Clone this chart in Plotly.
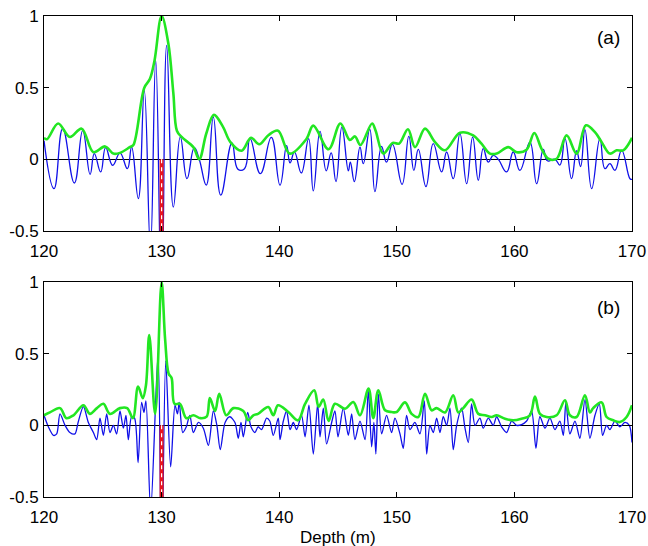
import plotly.graph_objects as go

# ---------------- data ----------------
x_range = [120, 170]
y_range = [-0.5, 1]
x_tickvals = [120, 130, 140, 150, 160, 170]
x_ticktext = ["120", "130", "140", "150", "160", "170"]
y_tickvals = [-0.5, 0, 0.5, 1]
y_ticktext = ["-0.5", "0", "0.5", "1"]
true_depth = 130.0
marker_bottom = -0.5

# panel (a) – blue trace
a_blue_depth = [120.0, 120.85, 121.59, 122.58, 123.29, 123.92, 124.28, 124.82, 125.24, 125.84,
                126.46, 127.09, 127.45, 128.02, 128.53, 129.05, 129.5, 130.0, 130.43, 131.0,
                131.59, 132.16, 132.78, 133.2, 133.8, 134.4, 135.03, 135.98, 136.5, 137.05,
                137.52, 138.4, 139.33, 140.07, 140.63, 140.92, 141.3, 141.88, 142.5, 142.9,
                143.47, 144.0, 144.42, 144.83, 145.33, 145.88, 146.05, 146.39, 146.87, 147.15,
                147.7, 148.14, 148.7, 149.12, 149.63, 150.45, 151.02, 151.45, 151.83, 152.48,
                153.1, 153.81, 154.24, 154.8, 155.37, 155.94, 156.45, 156.93, 157.35, 157.78,
                158.2, 158.63, 159.34, 159.9, 160.47, 161.32, 161.89, 162.46, 162.8, 163.45,
                163.87, 164.3, 164.86, 165.29, 165.63, 166.0, 166.57, 167.27, 167.7, 168.12,
                168.55, 169.12, 169.83, 170.0]
a_blue_value = [0.13, -0.205, 0.214, -0.165, 0.20, -0.105, 0.04, -0.088, 0.081, -0.042,
                0.044, -0.065, 0.086, -0.274, 0.48, -0.62, 0.69, -1.0, 0.795, -0.333,
                0.156, -0.135, 0.081, 0.0, -0.18, 0.295, -0.25, 0.114, -0.07, -0.065,
                0.144, -0.10, 0.153, -0.18, 0.095, -0.025, 0.05, -0.095, 0.145, -0.22,
                0.195, -0.08, 0.045, -0.155, 0.225, -0.08, -0.02, -0.155, 0.085, -0.03,
                0.21, -0.225, 0.09, -0.02, 0.105, -0.175, 0.16, -0.077, 0.07, -0.19,
                0.11, -0.088, 0.051, -0.135, 0.179, -0.17, 0.155, -0.146, 0.075, -0.019,
                0.028, 0.0, -0.088, 0.051, -0.077, 0.12, -0.17, 0.07, -0.01, 0.0,
                -0.04, 0.144, -0.135, 0.06, -0.05, 0.207, -0.205, 0.144, -0.065, -0.03,
                -0.077, 0.063, -0.135, -0.14]

# panel (a) – green envelope
a_green_depth = [120.0, 120.25, 121.2, 122.2, 123.2, 124.2, 125.2, 125.9, 126.46, 127.3,
                 127.6, 128.53, 129.0, 129.4, 130.0, 130.57, 131.0, 131.3, 131.7, 132.7,
                 133.2, 133.8, 134.45, 135.2, 135.85, 136.8, 137.6, 138.3, 139.1, 139.9,
                 140.9, 142.3, 142.9, 144.2, 145.2, 146.0, 146.45, 146.9, 147.9, 148.2,
                 148.85, 149.65, 150.2, 150.95, 151.55, 152.4, 153.25, 154.1, 155.37, 156.5,
                 157.2, 157.92, 158.5, 159.48, 160.2, 161.04, 161.69, 162.3, 162.88, 163.59,
                 164.44, 165.29, 166.08, 166.85, 167.42, 168.12, 168.69, 169.26, 170.0]
a_green_value = [0.15, 0.14, 0.25, 0.156, 0.214, 0.05, 0.09, 0.04, 0.045, 0.085,
                 0.1, 0.5, 0.56, 0.69, 1.0, 0.81, 0.46, 0.2, 0.156, 0.085,
                 0.0, 0.18, 0.31, 0.23, 0.12, 0.06, 0.15, 0.105, 0.17, 0.2,
                 0.04, 0.14, 0.235, 0.07, 0.25, 0.135, 0.16, 0.1, 0.25, 0.2,
                 0.04, 0.115, 0.11, 0.21, 0.085, 0.214, 0.12, 0.063, 0.186, 0.167,
                 0.109, 0.04, 0.04, 0.085, 0.05, 0.067, 0.184, 0.075, 0.004, 0.004,
                 0.167, 0.04, 0.237, 0.19, 0.12, 0.04, 0.063, 0.063, 0.15]

# panel (b) – blue trace
b_blue_depth = [120.0, 120.37, 120.8, 121.08, 121.36, 121.79, 122.2, 122.63, 122.9, 123.35,
                123.77, 124.2, 124.48, 124.76, 125.05, 125.33, 125.61, 125.9, 126.18, 126.46,
                126.75, 126.97, 127.17, 127.45, 127.7, 128.0, 128.3, 128.5, 128.67, 129.07,
                129.7, 130.0, 130.35, 130.77, 131.14, 131.35, 131.5, 131.8, 132.1, 132.4,
                132.7, 133.13, 133.55, 133.98, 134.4, 134.7, 134.99, 135.4, 135.8, 136.24,
                136.52, 136.75, 136.95, 137.32, 137.6, 137.94, 138.2, 138.5, 138.93, 139.2,
                139.5, 139.92, 140.07, 140.35, 140.63, 140.92, 141.2, 141.48, 141.9, 142.2,
                142.53, 142.9, 143.27, 143.47, 143.75, 144.03, 144.46, 144.74, 145.0, 145.45,
                145.88, 146.16, 146.44, 146.87, 147.3, 147.58, 147.86, 148.05, 148.22, 148.43,
                148.71, 149.13, 149.56, 149.84, 150.27, 150.55, 150.83, 151.12, 151.54, 151.97,
                152.34, 152.54, 152.82, 153.1, 153.39, 153.67, 153.95, 154.24, 154.52, 154.8,
                155.09, 155.51, 155.8, 156.08, 156.36, 156.65, 157.07, 157.35, 157.78, 158.2,
                158.49, 158.91, 159.34, 159.76, 160.19, 160.61, 161.04, 161.46, 161.83, 162.17,
                162.6, 163.02, 163.45, 163.87, 164.16, 164.38, 164.72, 165.15, 165.57, 166.0,
                166.42, 166.85, 167.22, 167.5, 167.84, 168.12, 168.55, 168.97, 169.4, 169.77,
                170.0]
b_blue_value = [0.07, -0.01, -0.07, -0.06, 0.08, 0.0, -0.05, -0.06, 0.02, 0.13,
                0.02, -0.05, -0.1, 0.05, -0.07, 0.08, -0.05, 0.0, -0.06, 0.1,
                -0.02, 0.07, -0.1, 0.06, 0.05, -0.26, 0.16, 0.09, 0.17, -0.6,
                0.5, -1.0, 0.45, -0.29, 0.14, 0.08, 0.16, -0.05, -0.01, 0.07,
                -0.05, 0.02, -0.02, -0.14, 0.1, 0.0, -0.17, 0.02, 0.06, 0.02,
                -0.09, 0.02, -0.08, 0.09, -0.01, -0.05, -0.01, -0.03, 0.05, 0.03,
                -0.07, 0.05, -0.1, 0.03, 0.1, -0.03, 0.02, -0.03, 0.07, -0.08,
                0.14, -0.2, 0.15, -0.08, 0.12, -0.13, 0.02, 0.1, -0.08, 0.12,
                -0.07, 0.08, -0.1, 0.03, -0.1, 0.245, -0.15, 0.02, -0.2, 0.22,
                -0.06, 0.07, -0.05, 0.05, -0.06, -0.16, 0.07, -0.03, 0.02, -0.06,
                0.17, -0.2, 0.0, -0.05, 0.05, -0.05, 0.06, 0.0, 0.12, -0.17,
                0.0, 0.12, -0.02, -0.12, 0.15, 0.0, 0.05, -0.02, 0.05, 0.0,
                0.06, -0.01, -0.05, 0.03, 0.0, 0.005, 0.03, 0.1, -0.16, 0.06,
                -0.02, 0.05, -0.03, 0.03, -0.07, 0.16, -0.06, 0.03, -0.09, 0.18,
                -0.09, 0.07, 0.15, -0.07, 0.0, -0.03, 0.03, -0.01, 0.02, 0.0,
                -0.12]

# panel (b) – green envelope
b_green_depth = [120.0, 120.5, 121.36, 121.9, 122.5, 123.35, 123.9, 124.5, 125.05, 125.6,
                 126.46, 127.07, 127.56, 128.0, 128.4, 128.67, 128.95, 129.45, 130.0, 130.3,
                 130.6, 130.85, 131.1, 131.56, 132.1, 132.7, 133.3, 133.83, 134.1, 134.55,
                 134.9, 135.5, 136.1, 136.95, 137.37, 137.8, 138.2, 139.07, 139.5, 139.9,
                 140.77, 141.6, 142.2, 142.98, 143.35, 143.75, 144.2, 144.74, 145.6, 146.3,
                 146.87, 147.6, 148.0, 148.43, 149.0, 149.56, 149.98, 150.7, 151.26, 151.83,
                 152.4, 152.96, 153.39, 154.1, 154.8, 155.23, 155.65, 156.36, 156.93, 157.5,
                 158.06, 158.49, 159.2, 159.9, 160.6, 161.32, 161.75, 162.17, 162.74, 163.59,
                 164.3, 164.72, 165.29, 166.0, 166.42, 166.7, 167.42, 167.84, 168.4, 168.97,
                 169.54, 170.0]
b_green_value = [0.07, 0.09, 0.12, 0.05, 0.07, 0.14, 0.08, 0.12, 0.15, 0.08,
                 0.12, 0.12, 0.05, 0.27, 0.19, 0.28, 0.63, 0.08, 1.0, 0.6,
                 0.36, 0.33, 0.15, 0.15, 0.05, 0.07, 0.05, 0.06, 0.19, 0.1,
                 0.22, 0.07, 0.12, 0.1, 0.035, 0.07, 0.08, 0.128, 0.07, 0.14,
                 0.093, 0.035, 0.15, 0.245, 0.13, 0.18, 0.03, 0.15, 0.116, 0.163,
                 0.07, 0.256, 0.05, 0.245, 0.105, 0.093, 0.093, 0.16, 0.08, 0.058,
                 0.22, 0.105, 0.12, 0.09, 0.21, 0.09, 0.12, 0.18, 0.08, 0.07,
                 0.058, 0.07, 0.046, 0.035, 0.046, 0.07, 0.2, 0.08, 0.058, 0.07,
                 0.175, 0.07, 0.058, 0.21, 0.09, 0.12, 0.16, 0.058, 0.035, 0.023,
                 0.058, 0.14]

panel_labels = ["(a)", "(b)"]
x_title = "Depth (m)"

# ---------------- styling ----------------
W, H = 648, 546
BLUE = "#1010e8"
GREEN = "#22e622"
FONT = "Liberation Sans, Arial, Helvetica, sans-serif"

fig = go.Figure()

panels = [
    ("x", "y", a_blue_depth, a_blue_value, a_green_depth, a_green_value, 1.3),
    ("x2", "y2", b_blue_depth, b_blue_value, b_green_depth, b_green_value, 0.8),
]
for xa, ya, bd, bv, gd, gv, sm in panels:
    fig.add_trace(go.Scatter(x=bd, y=bv, xaxis=xa, yaxis=ya, mode="lines",
                             line=dict(color=BLUE, width=1.3, shape="spline", smoothing=sm),
                             hoverinfo="skip", showlegend=False))
    fig.add_trace(go.Scatter(x=gd, y=gv, xaxis=xa, yaxis=ya, mode="lines",
                             line=dict(color=GREEN, width=2.6, shape="spline", smoothing=1.0),
                             hoverinfo="skip", showlegend=False))
    fig.add_trace(go.Scatter(x=[true_depth, true_depth], y=[0, marker_bottom], xaxis=xa, yaxis=ya,
                             mode="lines", line=dict(color="#e8141e", width=4),
                             hoverinfo="skip", showlegend=False))
    fig.add_trace(go.Scatter(x=[true_depth, true_depth], y=[0, marker_bottom], xaxis=xa, yaxis=ya,
                             mode="lines", line=dict(color="white", width=1.2, dash="4px,4px"),
                             hoverinfo="skip", showlegend=False))

xdom = [44 / W, 632 / W]
ydom_a = [1 - 231 / H, 1 - 16 / H]
ydom_b = [1 - 497 / H, 1 - 282 / H]

axis_common = dict(showline=True, linecolor="black", linewidth=1, mirror="ticks",
                   ticks="inside", ticklen=5, tickcolor="black", showgrid=False,
                   automargin=False,
                   tickfont=dict(family=FONT, size=17, color="black"))

ann_font = dict(family=FONT, size=19, color="black")
fig.update_layout(
    width=W, height=H, margin=dict(l=0, r=0, t=0, b=0, pad=0),
    paper_bgcolor="white", plot_bgcolor="white",
    xaxis=dict(domain=xdom, anchor="y", range=x_range, tickvals=x_tickvals, ticktext=x_ticktext,
               zeroline=False, ticklabelstandoff=5, **axis_common),
    yaxis=dict(domain=ydom_a, anchor="x", range=y_range, tickvals=y_tickvals, ticktext=y_ticktext,
               zeroline=True, zerolinecolor="black", zerolinewidth=1, ticklabelstandoff=1, **axis_common),
    xaxis2=dict(domain=xdom, anchor="y2", range=x_range, tickvals=x_tickvals, ticktext=x_ticktext,
                zeroline=False, ticklabelstandoff=5, **axis_common),
    yaxis2=dict(domain=ydom_b, anchor="x2", range=y_range, tickvals=y_tickvals, ticktext=y_ticktext,
                zeroline=True, zerolinecolor="black", zerolinewidth=1, ticklabelstandoff=1, **axis_common),
    annotations=[
        dict(text=panel_labels[0], x=608 / W, y=1 - 38 / H, xref="paper", yref="paper",
             xanchor="center", yanchor="middle", showarrow=False, font=ann_font),
        dict(text=panel_labels[1], x=608 / W, y=1 - 307 / H, xref="paper", yref="paper",
             xanchor="center", yanchor="middle", showarrow=False, font=ann_font),
        dict(text=x_title, x=338 / W, y=1 - 537 / H, xref="paper", yref="paper",
             xanchor="center", yanchor="middle", showarrow=False,
             font=dict(family=FONT, size=17, color="black")),
    ],
)

fig.write_html("out.html", config={"displayModeBar": False},
               post_script="document.body.style.margin='0px';document.body.style.overflow='hidden';")
